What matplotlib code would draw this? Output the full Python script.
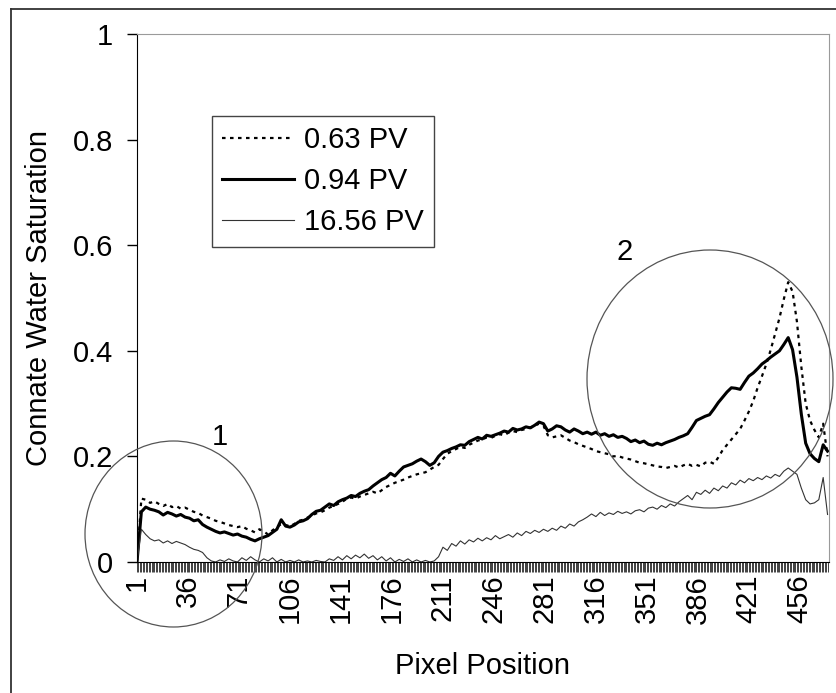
import numpy as np
import matplotlib.pyplot as plt
from matplotlib.patches import Ellipse
from matplotlib.lines import Line2D

plt.rcParams['font.family'] = ['Liberation Sans', 'DejaVu Sans']

# pixel positions along the core (every third pixel sampled)
pixel = np.arange(1, 476, 3)

# connate water saturation after 0.63 PV injected
sw_063 = [
    0.0, 0.120, 0.118, 0.112, 0.115, 0.110, 0.106, 0.110, 0.104, 0.106,
    0.101, 0.103, 0.099, 0.095, 0.093, 0.088, 0.085, 0.082, 0.078, 0.076,
    0.073, 0.070, 0.068, 0.066, 0.068, 0.063, 0.060, 0.056, 0.062, 0.058,
    0.052, 0.060, 0.066, 0.072, 0.070, 0.068, 0.072, 0.078, 0.080, 0.084,
    0.088, 0.092, 0.094, 0.098, 0.103, 0.106, 0.110, 0.114, 0.120, 0.122,
    0.120, 0.124, 0.127, 0.130, 0.133, 0.130, 0.136, 0.142, 0.146, 0.150,
    0.153, 0.156, 0.160, 0.163, 0.166, 0.168, 0.170, 0.175, 0.180, 0.184,
    0.195, 0.205, 0.210, 0.214, 0.218, 0.216, 0.222, 0.226, 0.230, 0.232,
    0.236, 0.235, 0.239, 0.242, 0.240, 0.245, 0.248, 0.246, 0.250, 0.252,
    0.255, 0.258, 0.262, 0.258, 0.240, 0.236, 0.238, 0.240, 0.235, 0.230,
    0.227, 0.223, 0.220, 0.217, 0.214, 0.210, 0.208, 0.206, 0.204, 0.200,
    0.201, 0.198, 0.196, 0.194, 0.191, 0.188, 0.187, 0.185, 0.183, 0.181,
    0.180, 0.178, 0.180, 0.182, 0.179, 0.183, 0.186, 0.182, 0.184, 0.181,
    0.188, 0.190, 0.186, 0.198, 0.212, 0.222, 0.232, 0.242, 0.252, 0.268,
    0.285, 0.305, 0.330, 0.352, 0.375, 0.402, 0.432, 0.462, 0.498, 0.530,
    0.512, 0.455, 0.370, 0.300, 0.268, 0.250, 0.236, 0.262, 0.200,
]

# after 0.94 PV
sw_094 = [
    0.0, 0.095, 0.104, 0.100, 0.098, 0.095, 0.089, 0.094, 0.091, 0.087,
    0.090, 0.085, 0.083, 0.078, 0.080, 0.071, 0.066, 0.062, 0.058, 0.055,
    0.057, 0.054, 0.051, 0.053, 0.049, 0.047, 0.043, 0.040, 0.044, 0.047,
    0.050, 0.056, 0.062, 0.080, 0.068, 0.066, 0.070, 0.076, 0.078, 0.082,
    0.090, 0.096, 0.098, 0.104, 0.110, 0.107, 0.114, 0.118, 0.121, 0.126,
    0.124, 0.130, 0.134, 0.137, 0.144, 0.150, 0.156, 0.160, 0.168, 0.163,
    0.172, 0.180, 0.183, 0.186, 0.191, 0.195, 0.190, 0.183, 0.188, 0.200,
    0.208, 0.211, 0.215, 0.218, 0.222, 0.221, 0.228, 0.232, 0.236, 0.233,
    0.240, 0.238, 0.241, 0.244, 0.248, 0.246, 0.253, 0.250, 0.252, 0.256,
    0.254, 0.259, 0.265, 0.262, 0.248, 0.252, 0.258, 0.256, 0.250, 0.246,
    0.252, 0.248, 0.243, 0.246, 0.242, 0.246, 0.240, 0.243, 0.238, 0.241,
    0.236, 0.238, 0.234, 0.228, 0.231, 0.226, 0.229, 0.223, 0.221, 0.225,
    0.222, 0.226, 0.229, 0.232, 0.236, 0.239, 0.243, 0.255, 0.268, 0.272,
    0.276, 0.279, 0.290, 0.302, 0.312, 0.322, 0.330, 0.329, 0.327, 0.340,
    0.352, 0.358, 0.366, 0.375, 0.381, 0.388, 0.394, 0.400, 0.412, 0.425,
    0.402, 0.350, 0.280, 0.225, 0.205, 0.196, 0.190, 0.222, 0.210,
]

# after 16.56 PV
sw_1656 = [
    0.0, 0.062, 0.052, 0.044, 0.040, 0.042, 0.036, 0.040, 0.035, 0.039,
    0.036, 0.033, 0.028, 0.024, 0.022, 0.018, 0.008, 0.002, 0.000, 0.004,
    0.001, 0.006, 0.002, 0.000, 0.008, 0.003, 0.010, 0.004, 0.000, 0.006,
    0.002, 0.008, 0.000, 0.005, 0.000, 0.003, 0.000, 0.004, 0.000, 0.002,
    0.000, 0.003, 0.001, 0.000, 0.006, 0.003, 0.010, 0.004, 0.012, 0.006,
    0.013, 0.008, 0.015, 0.007, 0.012, 0.004, 0.010, 0.002, 0.008, 0.000,
    0.005, 0.001, 0.006, 0.000, 0.004, 0.000, 0.003, 0.000, 0.002, 0.010,
    0.028, 0.022, 0.035, 0.030, 0.040, 0.034, 0.042, 0.038, 0.045, 0.040,
    0.046, 0.042, 0.050, 0.044, 0.048, 0.052, 0.047, 0.055, 0.050, 0.058,
    0.054, 0.060, 0.056, 0.062, 0.058, 0.064, 0.060, 0.068, 0.064, 0.072,
    0.068, 0.076, 0.080, 0.085, 0.091, 0.086, 0.094, 0.088, 0.093, 0.090,
    0.096, 0.092, 0.095, 0.091, 0.097, 0.099, 0.095, 0.102, 0.104, 0.100,
    0.107, 0.103, 0.110, 0.106, 0.114, 0.120, 0.126, 0.118, 0.132, 0.128,
    0.136, 0.130, 0.140, 0.135, 0.144, 0.140, 0.150, 0.146, 0.155, 0.150,
    0.158, 0.154, 0.160, 0.156, 0.163, 0.159, 0.166, 0.162, 0.172, 0.178,
    0.172, 0.166, 0.140, 0.118, 0.110, 0.112, 0.118, 0.160, 0.090,
]

series_labels = ['0.63 PV', '0.94 PV', '16.56 PV']
y_ticks = [0, 0.2, 0.4, 0.6, 0.8, 1]
y_tick_labels = ['0', '0.2', '0.4', '0.6', '0.8', '1']
x_labelled = [1, 36, 71, 106, 141, 176, 211, 246, 281, 316, 351, 386, 421, 456]
n_pixels = 476

W, H = 837, 693


def fx(px):
    return px / W


def fy(py):
    return 1 - py / H


fig = plt.figure(figsize=(W / 100, H / 100), dpi=100)
ax = fig.add_axes([fx(137), fy(562), fx(829) - fx(137), fy(34) - fy(562)])

ax.plot(pixel, sw_063, color='black', lw=1.6, ls=(0, (1.6, 2.0)), label=series_labels[0])
ax.plot(pixel, sw_094, color='black', lw=2.2, label=series_labels[1])
ax.plot(pixel, sw_1656, color='#333333', lw=0.8, label=series_labels[2])

ax.set_xlim(1, n_pixels)
ax.set_ylim(0, 1)
ax.set_yticks(y_ticks)
ax.set_yticklabels(y_tick_labels)

# every pixel gets a tick, only every 35th a label (category axis look)
ticks = np.arange(1, n_pixels)
ax.set_xticks(ticks)
ax.set_xticklabels([str(t) if t in x_labelled else '' for t in ticks])
ax.tick_params(axis='x', direction='out', length=7.2, width=0.6, color='#222222',
               labelsize=21, labelrotation=90, pad=2)
ax.tick_params(axis='y', direction='out', length=7.2, width=1, labelsize=21, pad=10)

for side in ['top', 'right']:
    ax.spines[side].set_color('#9a9a9a')
for side in ['left', 'bottom']:
    ax.spines[side].set_color('black')

leg = ax.legend(loc='upper left', bbox_to_anchor=(fx(212), fy(116)),
                bbox_transform=fig.transFigure, frameon=True, fancybox=False,
                edgecolor='#444444', framealpha=1, fontsize=21,
                handlelength=2.45, handletextpad=0.35, labelspacing=0.45,
                borderpad=0.35, borderaxespad=0)
leg.get_frame().set_linewidth(1.0)

# highlighted regions
fig.add_artist(Ellipse((fx(173.5), fy(534)), 177 / W, 186 / H, transform=fig.transFigure,
                       fill=False, ec='#555555', lw=0.9))
fig.add_artist(Ellipse((fx(710), fy(379)), 246 / W, 258 / H, transform=fig.transFigure,
                       fill=False, ec='#555555', lw=0.9))
fig.text(fx(220), fy(437), '1', ha='center', va='center', fontsize=21)
fig.text(fx(625), fy(252), '2', ha='center', va='center', fontsize=21)

fig.text(fx(39), fy(298), 'Connate Water Saturation', rotation=90,
         ha='center', va='center', fontsize=21)
fig.text(fx(483), fy(666), 'Pixel Position', ha='center', va='center', fontsize=21)

# outer chart frame
fig.add_artist(Line2D([fx(11), fx(11)], [fy(9), 0], transform=fig.transFigure,
                      color='#333333', lw=1.3))
fig.add_artist(Line2D([fx(11), 1], [fy(9), fy(9)], transform=fig.transFigure,
                      color='#333333', lw=1.3))

fig.savefig('out.png', dpi=100)
